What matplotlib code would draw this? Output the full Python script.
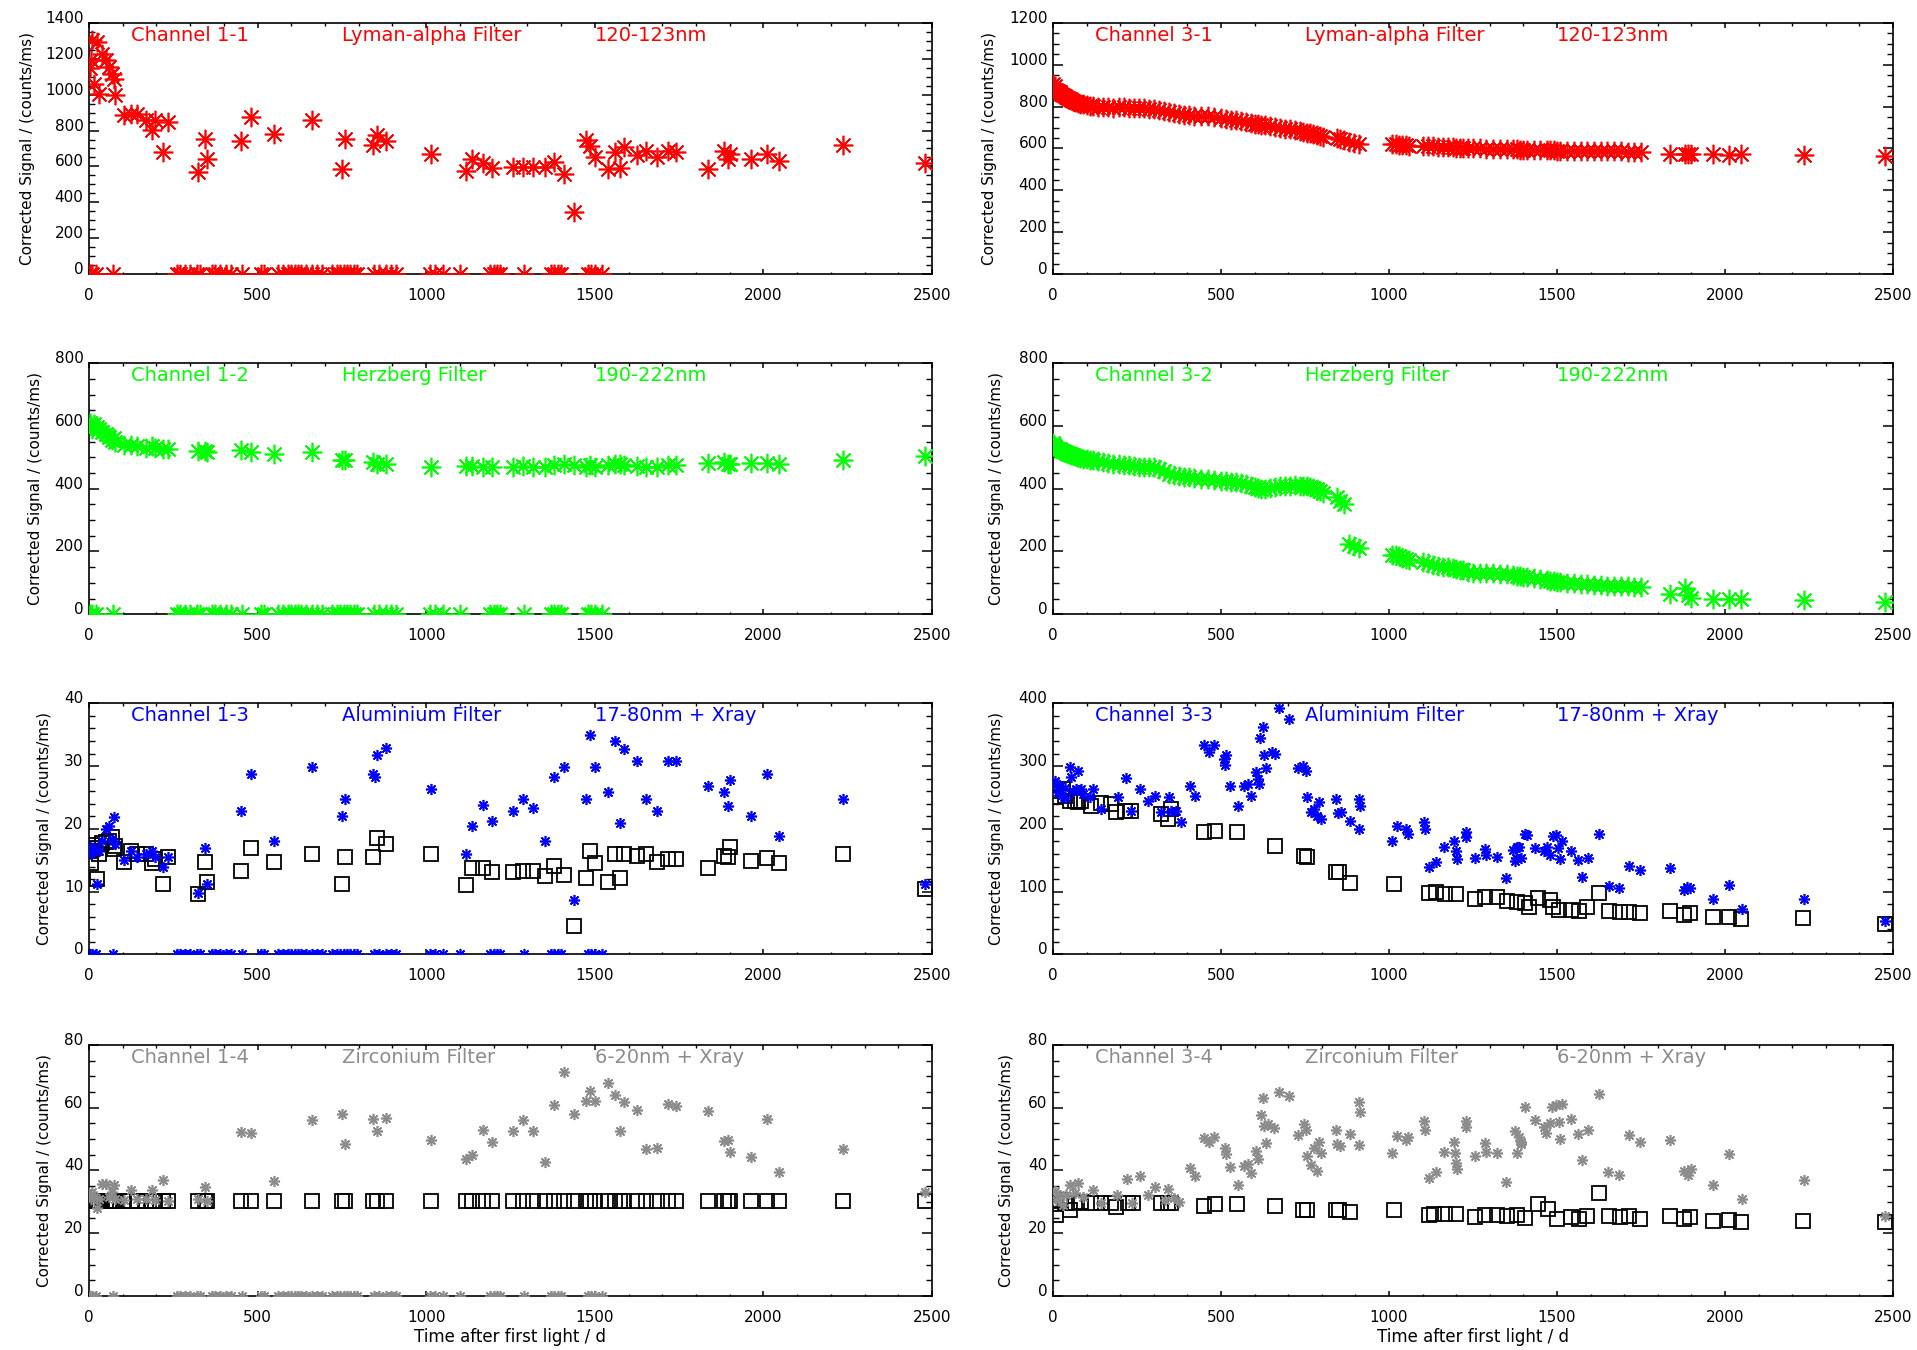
import numpy as np
import matplotlib
matplotlib.use('Agg')
import matplotlib.pyplot as plt
from matplotlib.ticker import MultipleLocator

# ---------------- data: (day, corrected signal) ----------------
ch11 = [(3,1150),(5,1192),(9,1303),(15,1061),(24,1294),(30,1005),(40,1229),(51,1192),(60,1155),(69,1117),
        (75,1089),(78,997),(105,885),(124,894),(142,894),(169,857),(187,801),(196,857),(220,680),(233,847),
        (324,568),(345,754),(351,642),(451,741),(482,875),(549,782),(660,857),(749,583),(760,754),(842,717),
        (855,777),(882,741),(1013,670),(1118,574),(1136,642),(1169,618),(1196,592),(1256,596),(1287,596),(1318,596),
        (1351,596),(1378,624),(1409,559),(1438,345),(1473,750),(1485,713),(1500,652),(1538,583),(1560,680),(1575,592),
        (1587,708),(1624,661),(1651,685),(1684,652),(1716,685),(1742,680),(1836,587),(1882,685),(1896,639),(1900,670),
        (1964,644),(2011,670),(2047,628),(2235,717),(2478,620)]

ch12 = [(3,610),(5,600),(9,590),(15,605),(24,595),(30,590),(40,580),(51,575),(60,565),(69,555),
        (75,560),(78,550),(105,540),(124,540),(142,535),(169,530),(187,535),(196,530),(220,525),(233,525),
        (324,520),(345,520),(351,518),(451,522),(482,518),(549,510),(660,518),(749,490),(760,492),(842,484),
        (855,480),(882,480),(1013,470),(1118,472),(1136,472),(1169,470),(1196,470),(1256,470),(1287,472),(1318,470),
        (1351,470),(1378,475),(1409,478),(1438,475),(1473,470),(1485,475),(1500,470),(1538,475),(1560,478),(1575,480),
        (1587,475),(1624,472),(1651,470),(1684,470),(1716,475),(1742,475),(1836,482),(1882,484),(1896,478),(1900,480),
        (1964,482),(2011,482),(2047,480),(2235,490),(2478,505)]

ch13_star = [(3,17.1),(5,16.0),(9,16.5),(15,17.0),(24,11.2),(30,16.5),(40,18.0),(51,20.0),(60,20.5),(69,18.4),
             (75,21.9),(78,17.6),(105,15.0),(124,16.4),(142,15.6),(169,16.0),(187,16.4),(196,15.5),(220,14.0),(233,15.6),
             (324,9.8),(345,16.9),(351,11.3),(451,22.9),(482,28.8),(549,18.0),(660,29.9),(749,22.0),(760,24.8),(842,28.8),
             (848,28.3),(855,31.7),(882,32.9),(1013,26.4),(1118,16.0),(1136,20.4),(1169,23.8),(1196,21.3),(1256,22.9),(1287,24.8),
             (1318,23.3),(1351,18.0),(1378,28.3),(1409,29.9),(1438,8.7),(1473,24.8),(1485,34.9),(1500,29.9),(1538,25.9),(1560,34.0),
             (1575,21.0),(1587,32.8),(1624,30.8),(1651,24.8),(1684,22.9),(1716,30.8),(1742,30.8),(1836,26.9),(1882,25.9),(1896,23.7),
             (1900,27.8),(1964,22.0),(2011,28.8),(2047,18.9),(2235,24.8),(2478,11.3)]

ch13_box = [(3,16.4),(5,14.5),(9,17.5),(15,17.0),(24,12.0),(30,16.0),(40,17.7),(51,17.9),(60,18.0),(69,18.7),
            (75,16.8),(78,17.3),(105,14.8),(124,16.4),(142,16.0),(169,16.0),(187,14.5),(196,15.2),(220,11.3),(233,15.6),
            (324,9.7),(345,14.8),(351,11.6),(451,13.3),(482,16.9),(549,14.8),(660,16.0),(749,11.3),(760,15.5),(842,15.6),
            (855,18.5),(882,17.6),(1013,16.0),(1118,11.0),(1136,13.7),(1169,13.7),(1196,13.1),(1256,13.2),(1287,13.3),(1318,13.3),
            (1351,12.5),(1378,14.1),(1409,12.7),(1438,4.5),(1473,12.2),(1485,16.4),(1500,14.5),(1538,11.6),(1560,16.0),(1575,12.2),
            (1587,16.0),(1624,15.7),(1651,16.0),(1684,14.8),(1716,15.2),(1742,15.2),(1836,13.8),(1882,15.7),(1896,15.6),(1900,17.1),
            (1964,14.9),(2011,15.4),(2047,14.5),(2235,16.0),(2478,10.4)]

ch14_star = [(3,32.4),(5,30.9),(9,33.0),(15,31.4),(24,28.0),(30,31.0),(40,35.7),(51,35.7),(60,31.5),(69,33.0),
             (75,35.5),(78,30.9),(105,30.5),(124,33.8),(142,30.8),(169,30.8),(187,33.8),(196,30.5),(220,37.0),(233,30.2),
             (324,30.8),(345,34.8),(351,30.2),(451,52.3),(482,51.9),(549,36.5),(660,56.0),(749,58.0),(760,48.5),(842,56.3),
             (855,52.5),(882,56.7),(1013,49.6),(1118,43.7),(1136,45.0),(1169,52.8),(1196,49.0),(1256,52.6),(1287,56.0),(1318,52.5),
             (1351,42.6),(1378,61.0),(1409,71.3),(1438,58.0),(1473,62.2),(1485,65.2),(1500,62.2),(1538,67.8),(1560,63.9),(1575,52.5),
             (1587,61.7),(1624,59.2),(1651,46.7),(1684,47.1),(1716,61.2),(1742,60.6),(1836,58.9),(1882,49.4),(1896,49.6),(1900,46.0),
             (1964,44.2),(2011,56.3),(2047,39.4),(2235,46.9),(2478,33.2)]

ch14_box = [(3,30.2),(5,30.2),(9,30.2),(15,30.2),(24,30.2),(30,30.2),(40,30.2),(51,30.2),(60,30.2),(69,30.2),
            (75,30.2),(78,30.2),(105,30.2),(124,30.2),(142,30.2),(169,30.2),(187,30.2),(196,30.2),(220,30.2),(233,30.2),
            (324,30.2),(345,30.2),(351,30.2),(451,30.2),(482,30.2),(549,30.2),(660,30.2),(749,30.2),(760,30.2),(842,30.2),
            (855,30.2),(882,30.2),(1013,30.2),(1118,30.2),(1136,30.2),(1169,30.2),(1196,30.2),(1256,30.2),(1287,30.2),(1318,30.2),
            (1351,30.2),(1378,30.2),(1409,30.2),(1438,30.2),(1473,30.2),(1485,30.2),(1500,30.2),(1538,30.2),(1560,30.2),(1575,30.2),
            (1587,30.2),(1624,30.2),(1651,30.2),(1684,30.2),(1716,30.2),(1742,30.2),(1836,30.2),(1882,30.2),(1896,30.2),(1900,30.2),
            (1964,30.2),(2011,30.2),(2047,30.2),(2235,30.2),(2478,30.2)]

# days on which channel 1 returned zero signal
ch1_zero = [(3,0),(10,0),(20,0),(70,0),(260,0),(270,0),(285,0),(300,0),(320,0),(330,0),
            (365,0),(375,0),(390,0),(405,0),(420,0),(455,0),(510,0),(520,0),(560,0),(575,0),
            (590,0),(600,0),(610,0),(620,0),(630,0),(645,0),(660,0),(675,0),(690,0),(720,0),
            (735,0),(745,0),(755,0),(765,0),(775,0),(785,0),(795,0),(845,0),(860,0),(880,0),
            (895,0),(910,0),(1010,0),(1025,0),(1050,0),(1100,0),(1190,0),(1200,0),(1210,0),(1220,0),
            (1290,0),(1370,0),(1380,0),(1390,0),(1400,0),(1480,0),(1490,0),(1500,0),(1520,0)]

ch31 = [(0,910),(3,895),(6,900),(10,880),(15,875),(20,870),(25,860),(30,855),(35,850),(40,845),
        (45,840),(50,835),(55,830),(60,828),(65,822),(70,820),(75,818),(80,815),(90,812),(100,808),
        (110,805),(120,803),(135,800),(150,798),(165,796),(180,795),(195,797),(210,796),(225,795),(240,794),
        (255,793),(270,792),(285,790),(300,788),(315,785),(330,780),(345,775),(360,770),(375,765),(390,760),
        (405,758),(420,756),(440,755),(460,755),(480,752),(500,748),(515,742),(530,738),(545,735),(560,730),
        (575,726),(590,722),(600,718),(610,715),(620,712),(630,710),(645,708),(660,705),(675,700),(690,695),
        (705,692),(720,688),(735,684),(745,680),(755,676),(765,672),(775,668),(785,665),(795,660),(805,656),
        (845,650),(855,645),(865,640),(880,630),(895,625),(910,620),(1010,622),(1020,620),(1030,618),(1040,616),
        (1050,615),(1060,614),(1100,612),(1115,610),(1130,610),(1145,608),(1160,608),(1175,606),(1190,605),(1200,604),
        (1210,603),(1220,602),(1235,601),(1250,600),(1270,600),(1290,599),(1310,598),(1330,598),(1350,597),(1370,596),
        (1380,596),(1390,595),(1400,595),(1410,594),(1430,594),(1450,593),(1470,592),(1480,592),(1490,591),(1500,590),
        (1510,590),(1530,590),(1550,589),(1570,589),(1590,588),(1610,588),(1630,587),(1650,587),(1670,586),(1690,586),
        (1710,585),(1730,585),(1750,585),(1837,575),(1880,576),(1890,574),(1900,573),(1964,572),(2011,570),(2047,572),
        (2236,570),(2477,565)]

ch32 = [(0,545),(3,540),(6,535),(10,530),(15,528),(20,525),(25,522),(30,520),(35,518),(40,515),
        (45,512),(50,510),(55,508),(60,506),(65,504),(70,502),(75,500),(80,498),(90,496),(100,494),
        (110,492),(120,490),(135,487),(150,485),(165,482),(180,480),(195,478),(210,476),(225,474),(240,472),
        (255,470),(270,470),(285,470),(300,468),(315,462),(330,455),(345,448),(360,445),(375,442),(390,438),
        (405,436),(420,434),(440,432),(460,430),(480,428),(500,426),(515,424),(530,422),(545,420),(560,418),
        (575,414),(590,410),(600,406),(610,402),(620,400),(630,400),(645,403),(660,406),(675,408),(690,410),
        (705,410),(720,411),(735,410),(745,410),(755,408),(765,405),(775,402),(785,398),(795,392),(805,385),
        (845,372),(855,362),(865,352),(880,225),(895,218),(910,210),(1010,190),(1020,188),(1030,185),(1040,180),
        (1050,176),(1060,172),(1100,165),(1115,162),(1130,158),(1145,155),(1160,152),(1175,150),(1190,147),(1200,145),
        (1210,142),(1220,140),(1235,136),(1250,133),(1270,132),(1290,131),(1310,130),(1330,129),(1350,127),(1370,125),
        (1380,123),(1390,121),(1400,120),(1410,118),(1430,114),(1450,111),(1470,108),(1480,107),(1490,106),(1500,104),
        (1510,103),(1530,101),(1550,99),(1570,97),(1590,95),(1610,93),(1630,92),(1650,91),(1670,90),(1690,90),
        (1710,89),(1730,88),(1750,88),(1837,63),(1880,85),(1890,60),(1900,52),(1964,48),(2011,48),(2047,48),
        (2236,45),(2477,40)]

ch33_star = [(5,277),(10,272),(15,259),(20,268),(25,253),(35,265),(40,250),(50,299),(54,283),(60,260),
             (69,264),(74,292),(84,264),(90,255),(109,251),(119,264),(144,232),(193,251),(216,281),(231,228),
             (260,263),(284,244),(305,253),(322,227),(344,251),(351,229),(366,229),(381,211),(409,269),(423,253),
             (450,334),(463,322),(480,334),(510,312),(512,301),(515,317),(528,268),(550,236),(569,268),(579,272),
             (589,253),(604,291),(609,280),(614,272),(617,345),(624,362),(629,318),(634,297),(653,323),(660,320),
             (673,392),(703,375),(730,297),(743,300),(752,293),(757,251),(767,227),(777,232),(787,221),(792,243),
             (797,216),(842,247),(847,226),(857,227),(884,213),(911,247),(914,237),(912,200),(1010,181),(1025,205),
             (1050,200),(1055,192),(1104,211),(1106,200),(1119,140),(1139,148),(1165,171),(1193,181),(1198,165),(1203,152),
             (1228,195),(1230,187),(1257,153),(1287,168),(1290,158),(1320,155),(1349,121),(1370,167),(1376,149),(1379,154),
             (1381,171),(1388,171),(1393,153),(1406,192),(1412,191),(1434,170),(1461,164),(1470,171),(1479,159),(1488,188),
             (1497,191),(1503,170),(1510,152),(1515,181),(1543,164),(1561,151),(1575,124),(1593,154),(1624,192),(1655,109),
             (1684,106),(1715,141),(1746,134),(1837,137),(1878,103),(1887,108),(1896,106),(1964,88),(2011,111),(2051,73),
             (2236,88),(2477,54)]

ch33_box = [(10,261),(10,251),(30,264),(35,253),(50,244),(64,244),(74,243),(84,244),(114,237),(142,242),
            (173,240),(188,227),(213,228),(233,228),(322,224),(342,216),(351,232),(450,195),(483,196),(547,195),
            (660,173),(748,157),(757,156),(842,132),(851,132),(883,114),(1015,112),(1119,98),(1139,99),(1166,97),
            (1198,97),(1257,88),(1287,91),(1320,91),(1350,85),(1381,84),(1406,82),(1416,76),(1443,90),(1479,87),
            (1488,76),(1506,71),(1543,71),(1564,70),(1588,76),(1624,98),(1655,70),(1688,67),(1715,68),(1746,66),
            (1837,70),(1878,63),(1896,66),(1964,60),(2011,60),(2047,56),(2233,58),(2477,48)]

ch34_star = [(5,33.3),(10,30.6),(20,32.2),(30,29.0),(40,32.2),(50,35.4),(64,32.7),(74,36.0),(89,31.6),(119,33.8),
             (144,29.5),(191,32.2),(221,37.3),(236,29.5),(260,38.3),(284,32.2),(305,34.7),(332,30.6),(342,34.1),(361,31.1),
             (376,30.0),(409,40.8),(423,38.1),(450,50.2),(463,49.1),(480,50.5),(512,47.0),(514,45.1),(528,41.1),(550,35.4),
             (569,41.4),(579,41.9),(589,39.2),(604,46.2),(609,43.7),(619,57.8),(626,63.0),(629,54.3),(634,48.9),(639,54.9),
             (658,53.5),(673,65.1),(703,63.8),(728,51.3),(746,54.9),(753,53.0),(757,44.6),(767,41.6),(777,47.0),(787,39.7),
             (792,49.1),(797,45.7),(842,53.0),(845,48.4),(854,47.8),(884,51.6),(911,61.7),(914,58.6),(912,48.1),(1010,45.5),
             (1025,51.1),(1050,49.8),(1055,50.5),(1104,55.9),(1106,53.0),(1119,37.6),(1139,39.4),(1165,45.9),(1193,49.1),(1195,45.7),
             (1198,42.4),(1203,40.5),(1228,55.9),(1230,53.8),(1257,44.6),(1287,48.9),(1290,45.9),(1320,45.7),(1349,36.2),(1376,52.7),
             (1381,45.7),(1386,50.5),(1393,49.1),(1394,48.5),(1406,60.3),(1434,56.0),(1461,53.9),(1466,52.0),(1479,55.1),(1484,60.3),
             (1497,60.8),(1506,55.5),(1508,50.1),(1515,61.1),(1543,56.5),(1561,51.5),(1575,43.4),(1593,52.8),(1624,64.3),(1652,39.5),
             (1684,38.6),(1715,51.2),(1746,49.1),(1837,49.6),(1878,39.8),(1891,38.4),(1900,40.5),(1964,35.4),(2011,45.3),(2051,30.9),
             (2236,37.0),(2477,25.6)]

ch34_box = [(10,29.3),(10,25.7),(20,30.6),(35,29.5),(52,27.3),(64,29.7),(84,30.0),(114,29.7),(144,29.7),(173,29.7),
            (188,28.4),(223,29.7),(238,29.7),(322,29.7),(342,29.5),(350,29.7),(450,28.6),(483,29.2),(547,29.2),(660,28.6),
            (743,27.3),(757,27.5),(842,27.5),(851,27.5),(883,26.8),(1015,27.3),(1119,25.7),(1134,26.0),(1166,26.0),(1198,26.2),
            (1257,25.2),(1287,25.7),(1320,25.7),(1350,25.4),(1381,25.7),(1406,24.9),(1443,29.3),(1472,27.7),(1501,24.5),(1543,25.1),
            (1564,24.5),(1588,25.6),(1624,32.7),(1655,25.6),(1688,25.1),(1715,25.4),(1746,24.5),(1837,25.4),(1878,24.5),(1896,25.1),
            (1964,24.0),(2011,24.2),(2047,23.5),(2233,23.8),(2477,23.5)]

titles = {
    '1-1': ('Channel 1-1', 'Lyman-alpha Filter', '120-123nm'),
    '3-1': ('Channel 3-1', 'Lyman-alpha Filter', '120-123nm'),
    '1-2': ('Channel 1-2', 'Herzberg Filter', '190-222nm'),
    '3-2': ('Channel 3-2', 'Herzberg Filter', '190-222nm'),
    '1-3': ('Channel 1-3', 'Aluminium Filter', '17-80nm + Xray'),
    '3-3': ('Channel 3-3', 'Aluminium Filter', '17-80nm + Xray'),
    '1-4': ('Channel 1-4', 'Zirconium Filter', '6-20nm + Xray'),
    '3-4': ('Channel 3-4', 'Zirconium Filter', '6-20nm + Xray'),
}
x_ticks = [0, 500, 1000, 1500, 2000, 2500]
ylabel_text = 'Corrected Signal / (counts/ms)'
xlabel_text = 'Time after first light / d'

# ---------------- styling ----------------
plt.rcParams['font.family'] = ['DejaVu Sans']
RED, GREEN, BLUE, GREY = '#ff0000', '#00ff00', '#0000ff', '#8c8c8c'
AST = (8, 2, 0)

fig = plt.figure(figsize=(19.17, 13.5), dpi=100)
lefts = [0.0464, 0.5493]
widths = [0.4398, 0.4382]
bottoms = [0.797, 0.545, 0.293, 0.040]
H = 0.186


def make_axes(col, row, ymax, ymaj, ymin_, key, color, ylab_x):
    ax = fig.add_axes([lefts[col], bottoms[row], widths[col], H])
    ax.set_xlim(0, 2500)
    ax.set_ylim(0, ymax)
    ax.set_xticks(x_ticks)
    ax.xaxis.set_minor_locator(MultipleLocator(100))
    ax.yaxis.set_major_locator(MultipleLocator(ymaj))
    ax.yaxis.set_minor_locator(MultipleLocator(ymin_))
    ax.tick_params(axis='y', which='major', direction='in', length=7.5, width=1.1,
                   left=True, right=True, labelsize=11, pad=4)
    ax.tick_params(axis='y', which='minor', direction='in', length=4.5, width=1.0,
                   left=True, right=True)
    ax.tick_params(axis='x', which='major', direction='in', length=3.6, width=1.1,
                   top=True, bottom=True, labelsize=11, pad=10)
    ax.tick_params(axis='x', which='minor', direction='in', length=1.8, width=1.0,
                   top=True, bottom=True)
    for lbl in ax.get_yticklabels():
        lbl.set_verticalalignment('baseline')
    for sp in ax.spines.values():
        sp.set_linewidth(1.2)
    ax.set_ylabel(ylabel_text, fontsize=11)
    ax.yaxis.set_label_coords(ylab_x, 0.5)
    if row == 3:
        ax.set_xlabel(xlabel_text, fontsize=12, labelpad=2)
    t = titles[key]
    for xf, s in zip([0.05, 0.30, 0.60], t):
        ax.text(xf, 0.95, s, transform=ax.transAxes, color=color, fontsize=14,
                va='center', ha='left', zorder=1)
    return ax


def pts(series):
    a = np.array(series, dtype=float)
    return a[:, 0], a[:, 1]


def stars(ax, series, color, ms, mew=1.2):
    x, y = pts(series)
    ax.plot(x, y, linestyle='none', marker=AST, ms=ms, mew=mew, color=color, zorder=3)


def boxes(ax, series):
    x, y = pts(series)
    ax.plot(x, y, linestyle='none', marker='s', ms=10, mew=1.3, mfc='none', mec='black', zorder=2)


# Row 1
ax = make_axes(0, 0, 1400, 200, 50, '1-1', RED, -0.064)
stars(ax, ch11, RED, 14)
stars(ax, ch1_zero, RED, 14)
ax = make_axes(1, 0, 1200, 200, 50, '3-1', RED, -0.067)
stars(ax, ch31, RED, 14)

# Row 2
ax = make_axes(0, 1, 800, 200, 50, '1-2', GREEN, -0.054)
stars(ax, ch12, GREEN, 14)
stars(ax, ch1_zero, GREEN, 14)
ax = make_axes(1, 1, 800, 200, 50, '3-2', GREEN, -0.058)
stars(ax, ch32, GREEN, 14)

# Row 3
ax = make_axes(0, 2, 40, 10, 2, '1-3', BLUE, -0.044)
boxes(ax, ch13_box)
stars(ax, ch13_star, BLUE, 8, 1.2)
stars(ax, ch1_zero, BLUE, 8, 1.2)
ax = make_axes(1, 2, 400, 100, 20, '3-3', BLUE, -0.058)
boxes(ax, ch33_box)
stars(ax, ch33_star, BLUE, 8, 1.2)

# Row 4
ax = make_axes(0, 3, 80, 20, 5, '1-4', GREY, -0.044)
boxes(ax, ch14_box)
stars(ax, ch14_star, GREY, 8, 1.2)
stars(ax, ch1_zero, GREY, 8, 1.2)
ax = make_axes(1, 3, 80, 20, 5, '3-4', GREY, -0.047)
boxes(ax, ch34_box)
stars(ax, ch34_star, GREY, 8, 1.2)

fig.savefig('out.png', dpi=100)
